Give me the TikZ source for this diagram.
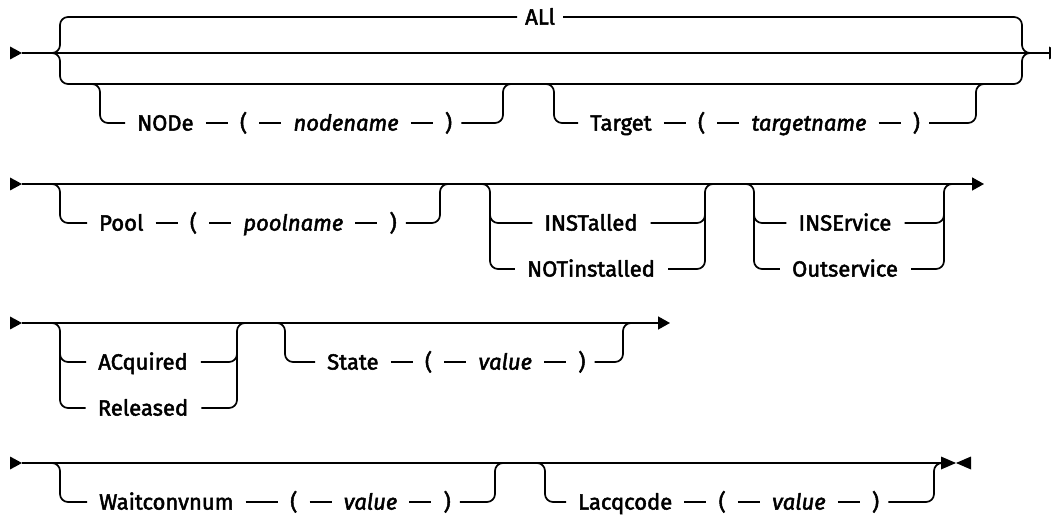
\documentclass[tikz,border=0pt]{standalone}
\usepackage{fontspec}
\setmainfont{Fira Sans}[FakeBold=2.2]
\usetikzlibrary{arrows.meta,positioning}
\newcommand\railfont{\fontsize{22bp}{26bp}\selectfont}
\tikzset{
  rail/.style={line width=1.7bp, rounded corners=8bp},
  tok/.style={anchor=west, inner sep=0bp, text height=15.1bp, text depth=0bp, font=\railfont},
  var/.style={tok, font=\railfont\itshape},
  endtip/.style={-{Triangle[length=12bp,width=13bp]}},
}
% dash between two tokens of a sequence
\newcommand\link[2]{\draw[rail] ([xshift=12bp]#1.east) -- ([xshift=-12bp]#2.west);}
\begin{document}
\begin{tikzpicture}[x=1bp,y=-1bp]
\useasboundingbox (0,0) rectangle (1051,516);

% ===================== row 1 : ALl | NODe(...) Target(...)
\coordinate (s1) at (22,53);
\coordinate (e1) at (1049,53);
\coordinate (j1l) at (52,53);
\coordinate (j1r) at (1030,53);
\fill (s1) -- ++(-12,-6.5) -- ++(0,13) -- cycle;
\fill (e1) -- ++(0,-6.5) -- ++(12,6.5) -- ++(-12,6.5) -- cycle;
\draw[rail] (s1) -- (e1);
\node[tok] (kAll) at (525,17) {ALl};
\draw[rail] (j1l) -- (60,53) -- (60,17) -- ([xshift=-8bp]kAll.west);
\draw[rail] ([xshift=8bp]kAll.east) -- (1022,17) -- (1022,53) -- (j1r);
\draw[rail] (j1l) -- (60,53) -- (60,84) -- (1022,84) -- (1022,53) -- (j1r);

% NODe ( nodename )
\coordinate (n1) at (92,84);
\coordinate (n2) at (511,84);
\node[tok] (kNode) at (137,123) {NODe};
\node[tok, right=46bp of kNode] (pNodeL) {(};
\node[var, right=46bp of pNodeL] (vNode) {nodename};
\node[tok, right=46bp of vNode] (pNodeR) {)};
\draw[rail] (n1) -- (100,84) -- (100,123) -- ([xshift=-12bp]kNode.west);
\link{kNode}{pNodeL}
\link{pNodeL}{vNode}
\link{vNode}{pNodeR}
\draw[rail] ([xshift=9bp]pNodeR.east) -- (503,123) -- (503,84) -- (n2);

% Target ( targetname )
\coordinate (t1) at (546,84);
\coordinate (t2) at (984,84);
\node[tok] (kTarget) at (590,123) {Target};
\node[tok, right=46bp of kTarget] (pTgtL) {(};
\node[var, right=46bp of pTgtL] (vTgt) {targetname};
\node[tok, right=46bp of vTgt] (pTgtR) {)};
\draw[rail] (t1) -- (554,84) -- (554,123) -- ([xshift=-12bp]kTarget.west);
\link{kTarget}{pTgtL}
\link{pTgtL}{vTgt}
\link{vTgt}{pTgtR}
\draw[rail] ([xshift=9bp]pTgtR.east) -- (976,123) -- (976,84) -- (t2);

% ===================== row 2 : Pool(...) INSTalled|NOTinstalled INSErvice|Outservice
\coordinate (s2) at (22,184);
\coordinate (e2) at (984,184);
\fill (s2) -- ++(-12,-6.5) -- ++(0,13) -- cycle;
\draw[rail, endtip] (s2) -- (e2);

\coordinate (p1) at (52,184);
\coordinate (p2) at (448,184);
\node[tok] (kPool) at (99,223) {Pool};
\node[tok, right=46bp of kPool] (pPoolL) {(};
\node[var, right=46bp of pPoolL] (vPool) {poolname};
\node[tok, right=46bp of vPool] (pPoolR) {)};
\draw[rail] (p1) -- (60,184) -- (60,223) -- ([xshift=-12bp]kPool.west);
\link{kPool}{pPoolL}
\link{pPoolL}{vPool}
\link{vPool}{pPoolR}
\draw[rail] ([xshift=9bp]pPoolR.east) -- (440,223) -- (440,184) -- (p2);

\coordinate (i1) at (482,184);
\coordinate (i2) at (713,184);
\node[tok, anchor=center] (kIns) at (591,223) {INSTalled};
\node[tok, anchor=center] (kNot) at (591,269) {NOTinstalled};
\draw[rail] (i1) -- (490,184) -- (490,269) -- ([xshift=-12bp]kNot.west);
\draw[rail] (490,200) -- (490,223) -- ([xshift=-12bp]kIns.west);
\draw[rail] ([xshift=13bp]kIns.east) -- (705,223) -- (705,200);
\draw[rail] ([xshift=13bp]kNot.east) -- (705,269) -- (705,184) -- (i2);

\coordinate (v1) at (746,184);
\coordinate (v2) at (952,184);
\node[tok, anchor=center] (kInse) at (845,223) {INSErvice};
\node[tok, anchor=center] (kOuts) at (845,269) {Outservice};
\draw[rail] (v1) -- (754,184) -- (754,269) -- ([xshift=-12bp]kOuts.west);
\draw[rail] (754,200) -- (754,223) -- ([xshift=-12bp]kInse.west);
\draw[rail] ([xshift=13bp]kInse.east) -- (944,223) -- (944,200);
\draw[rail] ([xshift=13bp]kOuts.east) -- (944,269) -- (944,184) -- (v2);

% ===================== row 3 : ACquired|Released State(...)
\coordinate (s3) at (22,323);
\coordinate (e3) at (670,323);
\fill (s3) -- ++(-12,-6.5) -- ++(0,13) -- cycle;
\draw[rail, endtip] (s3) -- (e3);

\coordinate (a1) at (52,323);
\coordinate (a2) at (245,323);
\node[tok, anchor=center] (kAcq) at (143,362) {ACquired};
\node[tok, anchor=center] (kRel) at (143,408) {Released};
\draw[rail] (a1) -- (60,323) -- (60,408) -- ([xshift=-12bp]kRel.west);
\draw[rail] (60,340) -- (60,362) -- ([xshift=-12bp]kAcq.west);
\draw[rail] ([xshift=13bp]kAcq.east) -- (237,362) -- (237,340);
\draw[rail] ([xshift=13bp]kRel.east) -- (237,408) -- (237,323) -- (a2);

\coordinate (st1) at (277,323);
\coordinate (st2) at (631,323);
\node[tok] (kState) at (327,362) {State};
\node[tok, right=46bp of kState] (pStL) {(};
\node[var, right=46bp of pStL] (vSt) {value};
\node[tok, right=46bp of vSt] (pStR) {)};
\draw[rail] (st1) -- (285,323) -- (285,362) -- ([xshift=-12bp]kState.west);
\link{kState}{pStL}
\link{pStL}{vSt}
\link{vSt}{pStR}
\draw[rail] ([xshift=9bp]pStR.east) -- (623,362) -- (623,323) -- (st2);

% ===================== row 4 : Waitconvnum(...) Lacqcode(...)
\coordinate (s4) at (22,463);
\coordinate (e4) at (941,463);
\fill (s4) -- ++(-12,-6.5) -- ++(0,13) -- cycle;
\draw[rail] (s4) -- (e4);
\fill (e4) -- ++(0,-6.5) -- ++(15,6.5) -- ++(-15,6.5) -- cycle;
\fill (e4) ++(30,0) -- ++(0,-6.5) -- ++(-15,6.5) -- ++(15,6.5) -- cycle;

\coordinate (w1) at (52,463);
\coordinate (w2) at (503,463);
\node[tok] (kWait) at (99,502) {Waitconvnum};
\node[tok] (pWaitL) at (290,502) {(};
\node[var, right=46bp of pWaitL] (vWait) {value};
\node[tok, right=46bp of vWait] (pWaitR) {)};
\draw[rail] (w1) -- (60,463) -- (60,502) -- ([xshift=-12bp]kWait.west);
\link{kWait}{pWaitL}
\link{pWaitL}{vWait}
\link{vWait}{pWaitR}
\draw[rail] ([xshift=9bp]pWaitR.east) -- (495,502) -- (495,463) -- (w2);

\coordinate (l1) at (537,463);
\coordinate (l2) at (942,463);
\node[tok] (kLacq) at (578,502) {Lacqcode};
\node[tok, right=46bp of kLacq] (pLacqL) {(};
\node[var, right=46bp of pLacqL] (vLacq) {value};
\node[tok, right=46bp of vLacq] (pLacqR) {)};
\draw[rail] (l1) -- (545,463) -- (545,502) -- ([xshift=-12bp]kLacq.west);
\link{kLacq}{pLacqL}
\link{pLacqL}{vLacq}
\link{vLacq}{pLacqR}
\draw[rail] ([xshift=9bp]pLacqR.east) -- (934,502) -- (934,463) -- (l2);
\end{tikzpicture}
\end{document}
